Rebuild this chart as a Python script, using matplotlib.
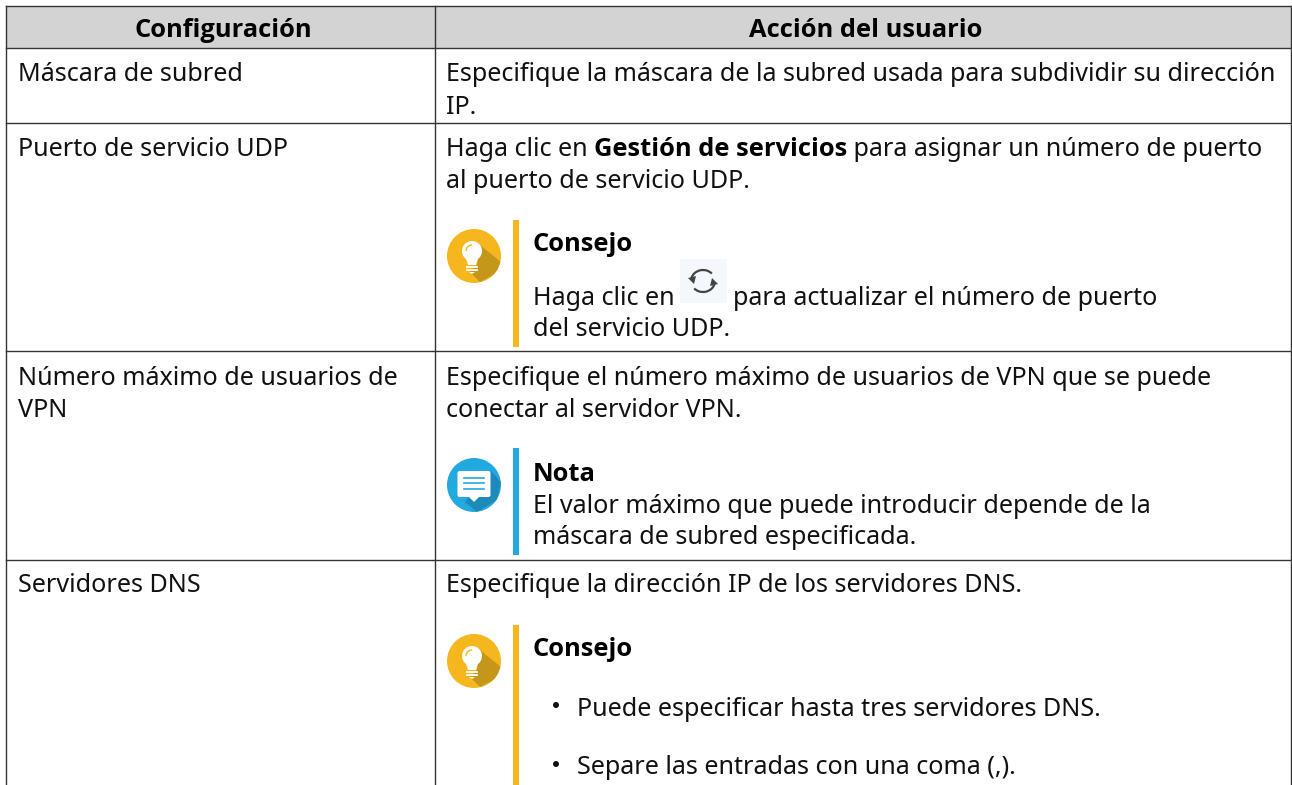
import matplotlib
matplotlib.use("Agg")
import matplotlib.pyplot as plt
from matplotlib.patches import Circle, Polygon, Rectangle, FancyBboxPatch, Arc

# Textos de la tabla
headers = ["Configuración", "Acción del usuario"]
settings = [
    ["Máscara de subred"],
    ["Puerto de servicio UDP"],
    ["Número máximo de usuarios de", "VPN"],
    ["Servidores DNS"],
]
mask_text = ["Especifique la máscara de la subred usada para subdividir su dirección", "IP."]
udp_runs = [("Haga clic en ", False), ("Gestión de servicios", True), (" para asignar un número de puerto", False)]
udp_text = "al puerto de servicio UDP."
tip_title = "Consejo"
note_title = "Nota"
tip_udp = ["Haga clic en", "para actualizar el número de puerto", "del servicio UDP."]
vpn_text = ["Especifique el número máximo de usuarios de VPN que se puede", "conectar al servidor VPN."]
note_text = ["El valor máximo que puede introducir depende de la", "máscara de subred especificada."]
dns_text = "Especifique la dirección IP de los servidores DNS."
dns_bullets = ["Puede especificar hasta tres servidores DNS.", "Separe las entradas con una coma (,)."]

# Geometría en píxeles
W, H = 1292, 785
LEFT, MID, RIGHT = 6, 434.5, 1290.5
TOP, HEAD, ROW1, ROW2, ROW3 = 5.5, 48, 123, 351, 560
YELLOW = "#f5b71d"
YELLOW_DARK = "#c4961a"
BLUE = "#22a9e0"
BLUE_DARK = "#1d8aba"
LINE = "#333333"
TXT = "#111111"
FS = 18.1
FS_BOLD = 18.35
TEXT_DY = 1  # la línea base de agg queda un píxel arriba

plt.rcParams["font.family"] = ["Noto Sans", "DejaVu Sans"]

fig = plt.figure(figsize=(W / 100, H / 100), dpi=100)
ax = fig.add_axes([0, 0, 1, 1])
ax.set_xlim(0, W)
ax.set_ylim(H, 0)
ax.axis("off")


def put(x, y, s, bold=False, **kw):
    if bold:
        # Noto Sans no tiene negrita instalada, Open Sans es casi igual
        return ax.text(x, y + TEXT_DY, s, fontsize=FS_BOLD, color="black", va="baseline",
                       family=["Open Sans", "DejaVu Sans"], fontweight="bold", **kw)
    return ax.text(x, y + TEXT_DY, s, fontsize=FS, color=TXT, va="baseline", **kw)


def bulb(cy):
    cx = 474
    disc = Circle((cx, cy), 27, transform=ax.transData)
    ax.add_patch(Circle((cx, cy), 27, fc=YELLOW, ec="none", zorder=2))
    shadow = Polygon([(cx + 6, cy - 11), (cx + 27, cy + 6), (cx + 23, cy + 17), (cx + 6, cy + 26),
                      (cx - 4, cy + 16), (cx + 3, cy + 9)], fc=YELLOW_DARK, ec="none", zorder=3)
    ax.add_patch(shadow)
    shadow.set_clip_path(disc)
    ax.add_patch(Circle((cx - 2, cy - 5), 10, fc="white", ec="none", zorder=4))
    ax.add_patch(Polygon([(cx - 9, cy - 1), (cx + 5, cy - 1), (cx + 2, cy + 9), (cx - 6, cy + 9)],
                         fc="white", ec="none", zorder=4))
    for dy, half in ((11, 5), (14, 5)):
        ax.plot([cx - 2 - half, cx - 2 + half], [cy + dy, cy + dy], color="white", lw=1.3, zorder=4)
    ax.add_patch(Polygon([(cx - 5, cy + 16), (cx + 1, cy + 16), (cx - 2, cy + 18)], fc="white", ec="none", zorder=4))
    ax.add_patch(Arc((cx - 2, cy - 5), 12, 12, theta1=180, theta2=270, color=YELLOW, lw=1, zorder=5))


def bubble(cy):
    cx = 474
    disc = Circle((cx, cy), 27, transform=ax.transData)
    ax.add_patch(Circle((cx, cy), 27, fc=BLUE, ec="none", zorder=2))
    shadow = Polygon([(cx + 17, cy - 14), (cx + 27, cy - 3), (cx + 23, cy + 15), (cx + 3, cy + 27),
                      (cx - 9, cy + 17)], fc=BLUE_DARK, ec="none", zorder=3)
    ax.add_patch(shadow)
    shadow.set_clip_path(disc)
    ax.add_patch(FancyBboxPatch((cx - 16.5, cy - 14), 33, 26, boxstyle="round,pad=0,rounding_size=2",
                                fc="white", ec="none", zorder=4))
    ax.add_patch(Polygon([(cx - 5, cy + 12), (cx + 5, cy + 12), (cx, cy + 17)], fc="white", ec="none", zorder=4))
    for dy in (-7, -2, 4):
        ax.plot([cx - 10, cx + 10], [cy + dy, cy + dy], color=BLUE, lw=1.2, zorder=5)


def refresh(x, y):
    ax.add_patch(Rectangle((x, y), 47, 44, fc="#f4f7fb", ec="none", zorder=1))
    cx, cy = x + 23, y + 22
    ax.add_patch(Arc((cx, cy), 24, 22, theta1=195, theta2=320, color="#444444", lw=1.6, zorder=2))
    ax.add_patch(Arc((cx, cy), 24, 22, theta1=15, theta2=140, color="#444444", lw=1.6, zorder=2))
    ax.add_patch(Polygon([(cx - 15, cy - 3), (cx - 7, cy - 5), (cx - 9, cy + 3)], fc="#444444", ec="none", zorder=2))
    ax.add_patch(Polygon([(cx + 15, cy + 3), (cx + 7, cy + 5), (cx + 9, cy - 3)], fc="#444444", ec="none", zorder=2))


# Tabla
ax.add_patch(Rectangle((LEFT, TOP), RIGHT - LEFT, HEAD - TOP, fc="#d3d3d3", ec="none", zorder=0))
for y in (TOP, HEAD, ROW1, ROW2, ROW3):
    ax.plot([LEFT, RIGHT], [y, y], color=LINE, lw=1, zorder=1)
for x in (LEFT, MID, RIGHT):
    ax.plot([x, x], [TOP, H], color=LINE, lw=1, zorder=1)

put(223, 36, headers[0], bold=True, ha="center")
put(865.5, 36, headers[1], bold=True, ha="center")

# Primera columna
put(18, 80, settings[0][0])
put(18, 155, settings[1][0])
put(18, 384, settings[2][0])
put(18, 416, settings[2][1])
put(18, 591, settings[3][0])

# Segunda columna
put(446, 80, mask_text[0])
put(446, 113, mask_text[1])

fig.canvas.draw()
rend = fig.canvas.get_renderer()
x = 446
for s, b in udp_runs:
    put(x, 155, s, bold=b)
    # los espacios finales no cuentan en el bbox, se mide con un punto
    probe = put(x, 155, s + ".", bold=b)
    dot = put(x, 155, ".", bold=b)
    x += probe.get_window_extent(rend).width - dot.get_window_extent(rend).width
    probe.remove()
    dot.remove()
put(446, 187, udp_text)

ax.add_patch(Rectangle((513, 219.5), 5.5, 127, fc=YELLOW, ec="none"))
bulb(256)
put(533, 250, tip_title, bold=True)
put(533, 304, tip_udp[0])
refresh(680, 259)
put(733, 304, tip_udp[1])
put(533, 335, tip_udp[2])

put(446, 384, vpn_text[0])
put(446, 416, vpn_text[1])
ax.add_patch(Rectangle((513, 448), 5.5, 107, fc=BLUE, ec="none"))
bubble(485)
put(533, 480, note_title, bold=True)
put(533, 512, note_text[0])
put(533, 543, note_text[1])

put(446, 591, dns_text)
ax.add_patch(Rectangle((513, 624.5), 5.5, 161, fc=YELLOW, ec="none"))
bulb(661)
put(533, 655, tip_title, bold=True)
ax.add_patch(Circle((556, 705), 3, fc=TXT, ec="none"))
put(577, 715, dns_bullets[0])
ax.add_patch(Circle((556, 764), 3, fc=TXT, ec="none"))
put(577, 773, dns_bullets[1])

fig.savefig("out.png", dpi=100)
